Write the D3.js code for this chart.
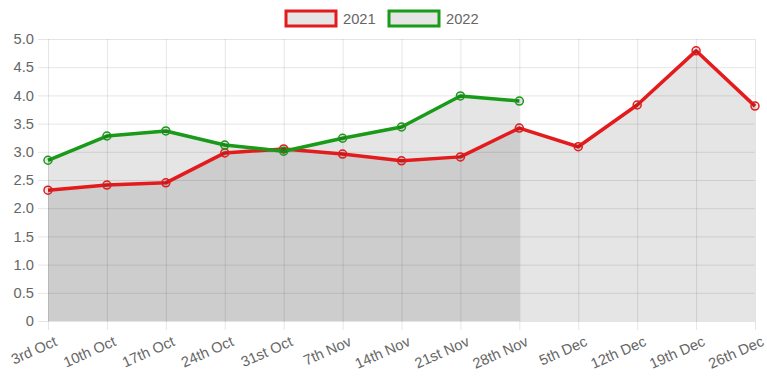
<!DOCTYPE html>
<html>
<head>
<meta charset="utf-8">
<script src="https://cdn.jsdelivr.net/npm/d3@7"></script>
<style>
  body { margin: 0; background: #fff; }
  text { font-family: "Liberation Sans", Arial, sans-serif; }
</style>
</head>
<body>
<div id="chart"></div>
<script>
var weeks = ["3rd Oct", "10th Oct", "17th Oct", "24th Oct", "31st Oct", "7th Nov", "14th Nov",
             "21st Nov", "28th Nov", "5th Dec", "12th Dec", "19th Dec", "26th Dec"];
var values2021 = [2.32, 2.41, 2.45, 2.98, 3.05, 2.96, 2.84, 2.91, 3.42, 3.09, 3.83, 4.79, 3.81];
var values2022 = [2.85, 3.28, 3.37, 3.12, 3.01, 3.24, 3.44, 3.99, 3.90];
var yTicks = [0, 0.5, 1, 1.5, 2, 2.5, 3, 3.5, 4, 4.5, 5];

var w = 767, h = 383;
var plotLeft = 48, plotRight = 755, plotTop = 39, plotBottom = 321;

var svg = d3.select("#chart").append("svg")
  .attr("width", w)
  .attr("height", h);

var x = d3.scalePoint().domain(weeks).range([plotLeft, plotRight]).padding(0);
var y = d3.scaleLinear().domain([0, 5]).range([plotBottom, plotTop]);

var grid = "rgba(0,0,0,0.1)";
var labelColor = "#666";

// horizontal grid + y labels
var yAxis = d3.axisLeft(y)
  .tickValues(yTicks)
  .tickSize(plotRight - 38)
  .tickFormat(function(d) { return d === 0 ? "0" : d3.format(".1f")(d); });
var gy = svg.append("g")
  .attr("transform", "translate(" + plotRight + ",0)")
  .call(yAxis);
gy.select(".domain").remove();
gy.selectAll(".tick line").attr("stroke", grid);
gy.selectAll(".tick text")
  .attr("x", -(plotRight - 34))
  .attr("fill", labelColor)
  .attr("font-size", "14.7px");

// vertical grid + x labels
var xAxis = d3.axisBottom(x).tickSize(plotBottom - plotTop + 9);
var gx = svg.append("g")
  .attr("transform", "translate(0," + plotTop + ")")
  .call(xAxis);
gx.select(".domain").remove();
gx.selectAll(".tick line").attr("stroke", grid);
gx.selectAll(".tick text").remove();

gx.selectAll(".tick").append("text")
  .attr("fill", labelColor)
  .attr("font-size", "14.7px")
  .attr("text-anchor", "end")
  .attr("transform", "translate(5," + (plotBottom - plotTop + 14) + ") rotate(-24)")
  .attr("dy", "0.75em")
  .text(function(d) { return d; });

// areas
var area = d3.area()
  .x(function(d, i) { return x(weeks[i]); })
  .y0(y(0))
  .y1(function(d) { return y(d); });

var line = d3.line()
  .x(function(d, i) { return x(weeks[i]); })
  .y(function(d) { return y(d); });

var series = [
  { name: "2021", values: values2021, color: "#e31b1d" },
  { name: "2022", values: values2022, color: "#199a19" }
];

series.forEach(function(s) {
  svg.append("path")
    .datum(s.values)
    .attr("d", area)
    .attr("fill", "rgba(0,0,0,0.1)");
});

series.forEach(function(s) {
  svg.append("path")
    .datum(s.values)
    .attr("d", line)
    .attr("fill", "none")
    .attr("stroke", s.color)
    .attr("stroke-width", 3.5)
    .attr("stroke-linejoin", "round");

  svg.append("g").selectAll("circle")
    .data(s.values)
    .enter()
    .append("circle")
    .attr("cx", function(d, i) { return x(weeks[i]); })
    .attr("cy", function(d) { return y(d); })
    .attr("r", 4)
    .attr("fill", "rgba(0,0,0,0.1)")
    .attr("stroke", s.color)
    .attr("stroke-width", 1.5);
});

// legend
var legend = svg.append("g");
var lx = 286;
series.forEach(function(s, i) {
  var bx = lx + i * 103;
  legend.append("rect")
    .attr("x", bx)
    .attr("y", 11)
    .attr("width", 50)
    .attr("height", 15)
    .attr("fill", "rgba(0,0,0,0.1)")
    .attr("stroke", s.color)
    .attr("stroke-width", 3);
  legend.append("text")
    .attr("x", bx + 57)
    .attr("y", 24)
    .attr("fill", labelColor)
    .attr("font-size", "14.7px")
    .text(s.name);
});
</script>
</body>
</html>
